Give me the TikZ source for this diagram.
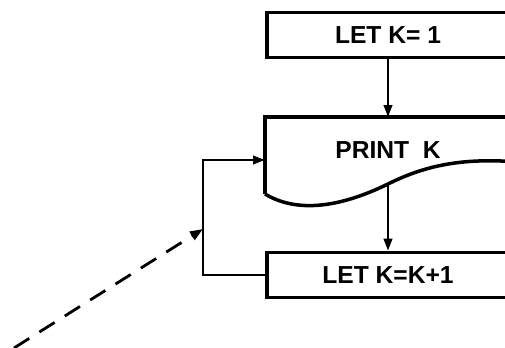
\documentclass[tikz,border=0pt]{standalone}
\usepackage{fontspec}
\setsansfont{Liberation Sans}
\usetikzlibrary{arrows.meta, calc, positioning}
\tikzset{
    stepbox/.style={rectangle, draw=black, line width=2pt, align=center,
        minimum width=4.84cm, minimum height=0.9cm, font=\sffamily\bfseries\fontsize{14}{16}\selectfont},
    label/.style={font=\sffamily\bfseries\fontsize{14}{16}\selectfont},
    arrow/.style={-{Triangle[length=2.4mm, width=1.7mm]}, line width=1.4pt},
    dasharrow/.style={-{Triangle[length=2.6mm, width=1.9mm]}, line width=1.6pt, dash pattern=on 0.36cm off 0.24cm},
}

\begin{document}
\begin{tikzpicture}[x=0.02cm, y=-0.02cm]
        \useasboundingbox (0,0) rectangle (505,348);
        \clip (0,0) rectangle (505,348);
        \node[stepbox] (let1) at (388,35) {LET K= 1};
        \node[label] (pk) at (388,150) {PRINT\ \ K};
        \node[stepbox] (let3) at (388,275) {LET K=K+1};
        % document shape of the print step
        \draw[line width=2pt] (265,194) -- (265,117) -- (530,117) -- (530,163)
            .. controls (470,157) and (430,163) .. (388,184)
            .. controls (345,205) and (300,215) .. (265,194);
        \coordinate (ptop) at (388,117);
        \coordinate (pbot) at (388,184);
        \coordinate (pin) at (265,160);
        \coordinate (jn) at (203,229);
        \coordinate (src) at (14,348);
        \draw[arrow] (let1.south) -- (ptop);
        \draw[arrow] (pbot) -- (let3.north);
        \draw[line width=1.4pt] (let3.west) -| (jn);
        \draw[arrow] (jn) |- (pin);
        \draw[dasharrow] (src) -- (jn);
    \end{tikzpicture}
\end{document}
